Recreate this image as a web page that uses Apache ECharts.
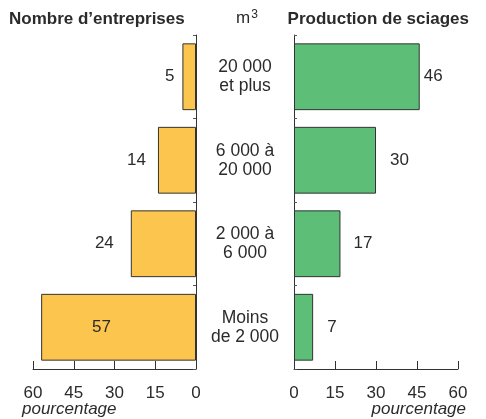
<!DOCTYPE html>
<html>
<head>
<meta charset="utf-8">
<script src="https://cdn.jsdelivr.net/npm/echarts@6/dist/echarts.min.js"></script>
<style>
  html, body { margin: 0; padding: 0; background: #fff; }
  #main { width: 486px; height: 419px; }
</style>
</head>
<body>
<div id="main"></div>
<script>
var categories = ['20 000\net plus', '6 000 à\n20 000', '2 000 à\n6 000', 'Moins\nde 2 000'];
var entreprises = [5, 14, 24, 57];
var sciages = [46, 30, 17, 7];
var ticks = [0, 15, 30, 45, 60];

var FONT = 'Liberation Sans';
var txt = '#2b2b2b';

// distances des étiquettes
var leftDist = [8, 12, 17, 0];
var rightDist = [4, 14, 13, 14];

var leftData = entreprises.map(function (v, i) {
  var item = { value: v, label: { distance: leftDist[i] } };
  if (i === 3) item.label = { position: 'inside', offset: [-17, 0] };
  return item;
});
var rightData = sciages.map(function (v, i) {
  return { value: v, label: { distance: rightDist[i] } };
});

var chart = echarts.init(document.getElementById('main'));
var option = {
  animation: false,
  textStyle: { fontFamily: FONT },
  title: [
    { text: 'Nombre d’entreprises', left: 4, top: 6,
      textStyle: { fontFamily: FONT, fontSize: 17, fontWeight: 'bold', color: txt } },
    { text: 'Production de sciages', right: 12, top: 6,
      textStyle: { fontFamily: FONT, fontSize: 17, fontWeight: 'bold', color: txt } }
  ],
  graphic: [
    { type: 'text', left: 236, top: 9,
      style: { text: '{a|m}{b|3}', fill: txt,
        rich: { a: { fontFamily: FONT, fontSize: 17, fill: txt },
                b: { fontFamily: FONT, fontSize: 12, fill: txt, verticalAlign: 'top', padding: [0, 0, 6, 1] } } } },
    { type: 'text', left: 22, top: 401,
      style: { text: 'pourcentage', fill: txt, font: 'italic 17px "Liberation Sans"' } },
    { type: 'text', right: 20, top: 401,
      style: { text: 'pourcentage', fill: txt, font: 'italic 17px "Liberation Sans"' } }
  ],
  grid: [
    { left: 33, width: 163, top: 35, height: 334 },
    { left: 294, width: 164, top: 35, height: 334 }
  ],
  xAxis: [
    { gridIndex: 0, type: 'value', inverse: true, min: 0, max: 60, interval: 15,
      splitLine: { show: false },
      axisLine: { show: true, lineStyle: { color: '#333' } },
      axisTick: { show: true, inside: true, length: 8, lineStyle: { color: '#333' } },
      axisLabel: { margin: 16, fontSize: 17, color: txt, fontFamily: FONT,
        formatter: function (v) { return ticks.indexOf(v) >= 0 ? v : ''; } } },
    { gridIndex: 1, type: 'value', min: 0, max: 60, interval: 15,
      splitLine: { show: false },
      axisLine: { show: true, lineStyle: { color: '#333' } },
      axisTick: { show: true, inside: true, length: 8, lineStyle: { color: '#333' } },
      axisLabel: { margin: 16, fontSize: 17, color: txt, fontFamily: FONT } }
  ],
  yAxis: [
    { gridIndex: 0, type: 'category', data: categories, inverse: true, position: 'right',
      axisLine: { show: true, lineStyle: { color: '#333' } },
      axisTick: { show: true, inside: true, length: 3, lineStyle: { color: '#555' } },
      axisLabel: { margin: 49, align: 'center', fontSize: 17.5, lineHeight: 19,
        color: txt, fontFamily: FONT } },
    { gridIndex: 1, type: 'category', data: categories, inverse: true, position: 'left',
      axisLine: { show: true, lineStyle: { color: '#333' } },
      axisTick: { show: true, inside: true, length: 3, lineStyle: { color: '#555' } },
      axisLabel: { show: false } }
  ],
  series: [
    { type: 'bar', xAxisIndex: 0, yAxisIndex: 0, data: leftData,
      barCategoryGap: '20%',
      itemStyle: { color: '#fcc54d', borderColor: '#333', borderWidth: 1 },
      label: { show: true, position: 'left', fontSize: 17, color: txt, fontFamily: FONT } },
    { type: 'bar', xAxisIndex: 1, yAxisIndex: 1, data: rightData,
      barCategoryGap: '20%',
      itemStyle: { color: '#5dbe78', borderColor: '#333', borderWidth: 1 },
      label: { show: true, position: 'right', fontSize: 17, color: txt, fontFamily: FONT } }
  ]
};
option && chart.setOption(option);
</script>
</body>
</html>
